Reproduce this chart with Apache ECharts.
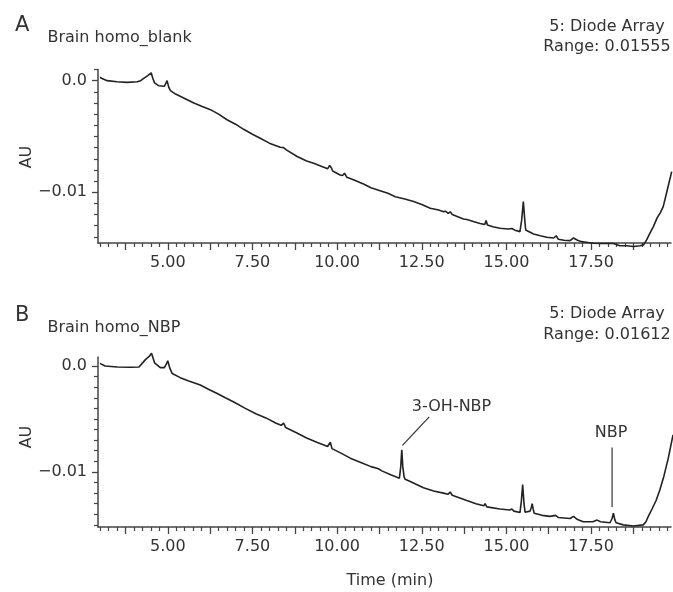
<!DOCTYPE html>
<html>
<head>
<meta charset="utf-8">
<script src="https://cdn.jsdelivr.net/npm/echarts@6/dist/echarts.min.js"></script>
<style>
  html, body { margin: 0; padding: 0; background: #fff; }
  #chart { width: 673px; height: 592px; }
</style>
</head>
<body>
<div id="chart"></div>
<script>
// ---------------- data ----------------
const blankTime = [3.00, 3.06, 3.21, 3.50, 3.80, 4.10, 4.20, 4.29, 4.41, 4.46, 4.51, 4.56, 4.61, 4.73, 4.90, 4.95, 4.98, 5.03, 5.08, 5.23, 5.50, 5.77, 6.00, 6.26, 6.50, 6.75, 7.00, 7.24, 7.50, 7.73, 8.00, 8.32, 8.42, 8.50, 8.82, 9.10, 9.31, 9.55, 9.72, 9.78, 9.80, 9.83, 9.87, 10.09, 10.16, 10.22, 10.29, 10.50, 10.78, 11.00, 11.27, 11.50, 11.72, 12.00, 12.26, 12.50, 12.75, 13.00, 13.14, 13.20, 13.28, 13.34, 13.40, 13.44, 13.73, 13.83, 14.00, 14.22, 14.36, 14.40, 14.44, 14.60, 14.81, 15.05, 15.16, 15.20, 15.25, 15.40, 15.45, 15.50, 15.55, 15.57, 15.80, 16.00, 16.19, 16.40, 16.47, 16.53, 16.70, 16.88, 16.98, 17.03, 17.10, 17.22, 17.40, 17.57, 17.80, 18.00, 18.16, 18.35, 18.55, 18.75, 18.95, 19.05, 19.14, 19.25, 19.34, 19.45, 19.55, 19.63, 19.75, 19.88];
const blankAU = [0.0003, 0.0002, 0.0000, -0.0001, -0.00015, -0.0001, 0.0000, 0.0002, 0.00045, 0.0005, 0.0007, 0.0002, -0.0002, -0.00045, -0.0005, -0.0002, 0.0000, -0.0006, -0.0009, -0.0012, -0.0016, -0.0020, -0.0023, -0.0026, -0.0030, -0.0035, -0.0039, -0.00436, -0.0048, -0.00516, -0.0056, -0.00597, -0.0060, -0.0062, -0.0068, -0.0072, -0.0074, -0.0077, -0.0079, -0.0076, -0.00745, -0.0078, -0.0081, -0.00845, -0.0085, -0.0083, -0.00866, -0.0089, -0.00926, -0.0096, -0.00986, -0.0101, -0.0104, -0.0106, -0.01084, -0.0111, -0.01143, -0.0116, -0.01174, -0.0117, -0.0119, -0.01175, -0.0120, -0.01212, -0.0124, -0.01245, -0.0126, -0.0128, -0.0129, -0.01254, -0.01293, -0.0131, -0.01323, -0.0133, -0.01325, -0.0132, -0.0134, -0.01353, -0.0125, -0.01084, -0.0128, -0.01338, -0.01374, -0.0139, -0.01403, -0.0141, -0.0139, -0.01421, -0.0143, -0.01434, -0.0141, -0.01412, -0.0143, -0.01443, -0.0145, -0.01457, -0.0146, -0.0146, -0.0146, -0.0148, -0.0148, -0.01487, -0.0148, -0.01472, -0.01427, -0.0136, -0.01308, -0.0123, -0.0118, -0.01129, -0.0098, -0.00815];

const nbpTime = [3.00, 3.15, 3.51, 3.90, 4.15, 4.34, 4.45, 4.52, 4.61, 4.78, 4.90, 4.96, 5.00, 5.06, 5.13, 5.37, 5.60, 5.96, 6.20, 6.46, 6.70, 6.95, 7.29, 7.60, 7.90, 8.20, 8.35, 8.42, 8.48, 8.80, 9.10, 9.40, 9.72, 9.80, 9.85, 10.10, 10.39, 10.70, 11.00, 11.22, 11.27, 11.32, 11.60, 11.84, 11.88, 11.91, 11.94, 11.98, 12.01, 12.16, 12.55, 12.85, 13.14, 13.28, 13.34, 13.40, 13.83, 14.10, 14.33, 14.37, 14.42, 14.81, 15.10, 15.16, 15.22, 15.40, 15.44, 15.48, 15.52, 15.55, 15.70, 15.74, 15.76, 15.79, 15.82, 16.05, 16.29, 16.45, 16.49, 16.53, 16.88, 16.98, 17.03, 17.10, 17.27, 17.55, 17.68, 17.78, 18.06, 18.12, 18.16, 18.20, 18.24, 18.45, 18.75, 19.04, 19.12, 19.19, 19.30, 19.42, 19.53, 19.65, 19.78, 19.92];
const nbpAU = [0.00025, 0.0000, -0.0001, -0.00012, -0.0001, 0.0006, 0.0009, 0.0012, 0.0003, -0.00015, -0.00015, 0.0002, 0.0005, -0.0002, -0.0007, -0.0011, -0.0014, -0.0018, -0.0022, -0.0026, -0.0030, -0.0034, -0.0040, -0.0045, -0.0049, -0.0054, -0.0056, -0.0054, -0.0058, -0.0063, -0.0068, -0.0072, -0.0076, -0.0072, -0.0078, -0.0082, -0.0087, -0.0091, -0.0095, -0.0097, -0.0096, -0.0099, -0.0103, -0.0106, -0.0095, -0.0079, -0.0095, -0.0105, -0.0107, -0.0109, -0.0115, -0.0118, -0.0120, -0.0121, -0.0119, -0.0122, -0.0127, -0.0130, -0.0132, -0.0130, -0.0133, -0.0135, -0.0136, -0.0135, -0.0137, -0.01384, -0.0128, -0.0112, -0.0130, -0.0138, -0.0137, -0.0133, -0.0130, -0.0135, -0.0139, -0.0141, -0.0142, -0.0141, -0.0140, -0.0143, -0.0144, -0.0142, -0.0142, -0.0145, -0.0147, -0.0147, -0.01455, -0.0147, -0.0148, -0.0144, -0.0139, -0.0145, -0.0148, -0.0150, -0.0151, -0.0150, -0.0147, -0.0142, -0.0135, -0.0127, -0.0117, -0.0104, -0.0087, -0.0065];

const xTickLabels = [5, 7.5, 10, 12.5, 15, 17.5];
const yTickLabels = [0, -0.01];
const panelLetters = ['A', 'B'];
const panelTitles = ['Brain homo_blank', 'Brain homo_NBP'];
const detectorText = '5: Diode Array';
const rangeTexts = ['Range: 0.01555', 'Range: 0.01612'];
const yAxisTitle = 'AU';
const xAxisTitle = 'Time (min)';
const peakNames = ['3-OH-NBP', 'NBP'];
const peakLeaderFrom = [[11.93, -0.0075], [18.12, -0.0133]];
const peakLeaderTo = [[12.72, -0.0048], [18.12, -0.0077]];
const peakLabelAt = [[13.38, -0.0039], [18.09, -0.0063]];

// ---------------- layout / styling ----------------
const FONT = "'DejaVu Sans', 'Liberation Sans', sans-serif";
const TXT = '#333';
const AX = '#444';
const xMin = 2.94, xMax = 19.86;
const yRanges = [[-0.01455, 0.0010], [-0.0152, 0.00085]];
const grids = [
  { left: 98, top: 69.5, width: 573, height: 173.5 },
  { left: 98, top: 357, width: 573, height: 170 }
];

function range(a, b, step) { const r = []; for (let v = a; v <= b + 1e-9; v += step) r.push(+v.toFixed(4)); return r; }
const xMajor = range(3.75, 19.86, 1.25);
const xMinor = range(3.0, 19.86, 0.25).filter(v => !xMajor.some(m => Math.abs(m - v) < 1e-6));

function yMinorFor(i) {
  const [mn, mx] = yRanges[i];
  const out = [];
  for (let k = Math.ceil(mn / 0.001 - 1e-6); k <= Math.floor(mx / 0.001 + 1e-6); k++) {
    const v = +(k * 0.001).toFixed(4);
    if (!yTickLabels.some(m => Math.abs(m - v) < 1e-9)) out.push(v);
  }
  return out;
}

const xAxes = [], yAxes = [], series = [], graphics = [];
[0, 1].forEach(i => {
  const [ymn, ymx] = yRanges[i];
  const g = grids[i];
  xAxes.push({
    type: 'value', gridIndex: i, min: xMin, max: xMax, position: 'bottom',
    axisLine: { show: true, onZero: false, lineStyle: { color: AX, width: 1.5 } },
    axisTick: { show: true, length: 7, customValues: xMajor, lineStyle: { color: AX, width: 1.3 } },
    axisLabel: { show: true, customValues: xTickLabels, margin: 12, formatter: v => v.toFixed(2),
      fontFamily: FONT, fontSize: 16, color: TXT },
    splitLine: { show: false }
  });
  // minor ticks: an axis placed at 'top' and shifted down onto the bottom edge
  xAxes.push({
    type: 'value', gridIndex: i, min: xMin, max: xMax, position: 'top', offset: -g.height,
    axisLine: { show: false, onZero: false },
    axisTick: { show: true, inside: true, length: 4, customValues: xMinor, lineStyle: { color: AX, width: 1.2 } },
    axisLabel: { show: false }, splitLine: { show: false }
  });
  yAxes.push({
    type: 'value', gridIndex: i, min: ymn, max: ymx, position: 'left',
    axisLine: { show: true, onZero: false, lineStyle: { color: AX, width: 1.5 } },
    axisTick: { show: true, length: 6, customValues: yTickLabels, lineStyle: { color: AX, width: 1.3 } },
    axisLabel: { show: true, customValues: yTickLabels, margin: 11,
      formatter: v => (Math.abs(v) < 1e-9 ? '0.0' : '\u22120.01'),
      fontFamily: FONT, fontSize: 16, color: TXT },
    splitLine: { show: false }
  });
  // minor ticks: an axis placed at 'right' and shifted left onto the left edge
  yAxes.push({
    type: 'value', gridIndex: i, min: ymn, max: ymx, position: 'right', offset: -g.width,
    axisLine: { show: false, onZero: false },
    axisTick: { show: true, inside: true, length: 4, customValues: yMinorFor(i), lineStyle: { color: AX, width: 1.2 } },
    axisLabel: { show: false }, splitLine: { show: false }
  });
});

const traces = [[blankTime, blankAU], [nbpTime, nbpAU]];
traces.forEach(([t, v], i) => {
  series.push({
    type: 'line', xAxisIndex: i * 2, yAxisIndex: i * 2,
    data: t.map((x, k) => [x, v[k]]),
    showSymbol: false, symbol: 'none', clip: false, smooth: false,
    lineStyle: { color: '#222', width: 1.6 }, silent: true, animation: false
  });
});

// peak annotations (panel B)
peakNames.forEach((name, k) => {
  series.push({
    type: 'line', xAxisIndex: 2, yAxisIndex: 2,
    data: [peakLeaderFrom[k], peakLeaderTo[k]],
    symbol: 'none', lineStyle: { color: '#333', width: 1.2 }, animation: false, silent: true, clip: false
  });
  series.push({
    type: 'scatter', xAxisIndex: 2, yAxisIndex: 2,
    data: [peakLabelAt[k]], symbolSize: 0, animation: false, silent: true, clip: false,
    itemStyle: { opacity: 1, color: 'rgba(0,0,0,0)' },
    label: { show: true, position: 'inside', formatter: name, fontFamily: FONT, fontSize: 16,
      color: TXT, opacity: 1, textBorderWidth: 0, textShadowBlur: 0 }
  });
});

// header / axis-title texts
const headerY = [[25.5, 37.5, 26.5, 47], [315.5, 327.5, 314, 335]];
const auCenterY = [157, 437];
[0, 1].forEach(i => {
  const [ly, ty, d1, d2] = headerY[i];
  graphics.push({ type: 'text', x: 15, y: ly, style: { text: panelLetters[i], fill: TXT, font: '21px ' + FONT, align: 'left', verticalAlign: 'middle' } });
  graphics.push({ type: 'text', x: 47.5, y: ty, style: { text: panelTitles[i], fill: TXT, font: '16px ' + FONT, align: 'left', verticalAlign: 'middle' } });
  graphics.push({ type: 'text', x: 607, y: d1, style: { text: detectorText, fill: TXT, font: '16px ' + FONT, align: 'center', verticalAlign: 'middle' } });
  graphics.push({ type: 'text', x: 607, y: d2, style: { text: rangeTexts[i], fill: TXT, font: '16px ' + FONT, align: 'center', verticalAlign: 'middle' } });
  graphics.push({ type: 'text', x: 26.5, y: auCenterY[i], rotation: Math.PI / 2, style: { text: yAxisTitle, fill: TXT, font: '16px ' + FONT, align: 'center', verticalAlign: 'middle' } });
});
graphics.push({ type: 'text', x: 390, y: 581, style: { text: xAxisTitle, fill: TXT, font: '16px ' + FONT, align: 'center', verticalAlign: 'middle' } });

const chart = echarts.init(document.getElementById('chart'), null, { renderer: 'canvas' });
chart.setOption({
  backgroundColor: '#fff',
  animation: false,
  grid: grids.map(g => Object.assign({ containLabel: false, outerBoundsMode: 'none' }, g)),
  xAxis: xAxes,
  yAxis: yAxes,
  series: series,
  graphic: graphics
});
</script>
</body>
</html>
